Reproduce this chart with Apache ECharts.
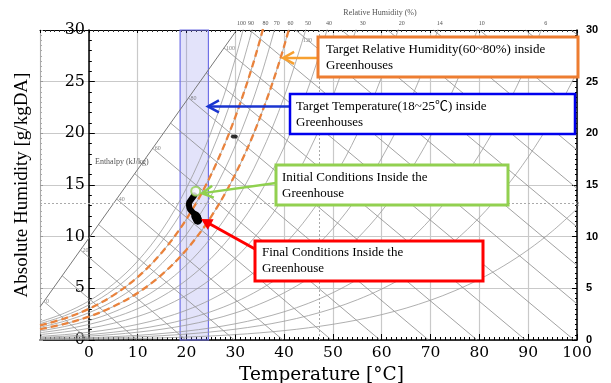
<!DOCTYPE html>
<html><head><meta charset="utf-8">
<script src="https://cdn.jsdelivr.net/npm/echarts@6/dist/echarts.min.js"></script>
<style>html,body{margin:0;padding:0;background:#fff}#c{width:611px;height:383px}</style>
</head><body><div id="c"></div>
<script>
// ---- data ----
const tempTicks = [0, 10, 20, 30, 40, 50, 60, 70, 80, 90, 100];
const humidityTicks = [0, 5, 10, 15, 20, 25, 30];
// saturation vapour pressure table (kPa) against dry-bulb temperature (°C)
const satTemps = [-10, -5, 0, 5, 10, 15, 20, 25, 30, 35, 40, 45, 50, 55, 60, 65, 70, 75, 80, 85, 90, 95, 100];
const satPress = [0.286, 0.422, 0.611, 0.873, 1.228, 1.706, 2.339, 3.169, 4.246, 5.627, 7.381, 9.590, 12.344, 15.752, 19.932, 25.022, 31.176, 38.563, 47.373, 57.815, 70.117, 84.529, 101.32];
const rhCurves = [100, 90, 80, 70, 60, 50, 40, 30, 20, 14, 10, 6, 4, 2];
const targetRh = [80, 60];
const enthalpyLevels = [0, 10, 20, 30, 40, 50, 60, 70, 80, 90, 100, 110, 120, 130, 140, 150, 160, 170, 180];
const enthalpyLabelLevels = [0, 20, 40, 60, 80, 100];
const enthalpyScaleT = [-10, 30.3];
const enthalpyScaleW = [3.2, 30];
const topRhLabels = ['100', '90', '80', '70', '60', '50', '40', '30', '20', '14', '10', '6'];
const topRhTemps = [31.3, 33.2, 36.2, 38.5, 41.3, 44.9, 49.2, 56.1, 64.1, 71.9, 80.5, 93.6];
const targetTempRange = [18.7, 24.5];
const trajT = [21.6, 21.0, 20.5, 20.6, 21.2, 21.9, 22.4, 22.3];
const trajW = [14.0, 13.6, 13.2, 12.8, 12.4, 12.1, 11.8, 11.5];
const finalBlobT = [21.9, 22.3];
const finalBlobW = [12.0, 11.6];
const initialPoint = [21.9, 14.4];
const strayPoint = [29.8, 19.7];
const dottedRefT = 47.3;
const dottedRefW = 13.2;
// annotation targets (data coords)
const orangeTarget = [39.8, 27.3];
const blueTarget = [24.4, 22.6];
const greenTarget = [23.2, 14.2];
const redTarget = [23.0, 11.7];

// ---- helpers ----
const P = 101.325;
const wFromPv = pv => 622 * pv / (P - pv);
const hAt = (T, w) => 1.006 * T + w / 1000 * (2501 + 1.86 * T);

function rhCurve(rh) {
  const pts = [];
  for (let i = 0; i < satTemps.length; i++) {
    const w = wFromPv(rh / 100 * satPress[i]);
    pts.push([satTemps[i], w]);
    if (w > 30) break;
  }
  return pts;
}
function scalePoint(s) {
  return [enthalpyScaleT[0] + (enthalpyScaleT[1] - enthalpyScaleT[0]) * s,
          enthalpyScaleW[0] + (enthalpyScaleW[1] - enthalpyScaleW[0]) * s];
}
function scaleIntersect(h) {
  let a = 0, b = 1;
  for (let k = 0; k < 50; k++) {
    const m = (a + b) / 2; const p = scalePoint(m);
    if (hAt(p[0], p[1]) < h) a = m; else b = m;
  }
  return scalePoint((a + b) / 2);
}
const hTop = hAt(enthalpyScaleT[1], enthalpyScaleW[1]);
function enthalpyLine(h) {
  let start;
  if (h <= hTop) start = scaleIntersect(h);
  else start = [(h - 2.501 * 30) / (1.006 + 0.00186 * 30), 30];
  let end;
  const Te = h / 1.006;
  if (Te <= 100) end = [Te, 0];
  else end = [100, 1000 * (h - 100.6) / (2501 + 186)];
  return [start, end];
}

const serif = 'Liberation Serif';
const gridLineColor = '#c9c9c9';

const series = [];
// band + dotted reference lines
series.push({
  type: 'line', data: [], silent: true, z: 1,
  markArea: {
    silent: true,
    itemStyle: { color: 'rgba(100,100,225,0.18)', borderColor: '#7070e6', borderWidth: 1.2 },
    data: [[{ xAxis: targetTempRange[0] }, { xAxis: targetTempRange[1] }]]
  },
  markLine: {
    silent: true, symbol: 'none', label: { show: false },
    lineStyle: { color: '#aaa', type: [2, 2], width: 1 },
    data: [{ xAxis: dottedRefT }, { yAxis: dottedRefW }]
  }
});
// RH curves
rhCurves.forEach((rh, i) => {
  series.push({
    type: 'line', data: rhCurve(rh), smooth: 0.35, symbol: 'none', silent: true,
    lineStyle: { color: '#9a9a9a', width: 0.8 }, z: 2,
    endLabel: rh === 2 ? { show: true, formatter: '2', fontSize: 6, color: '#777', offset: [-9, -4] } : undefined
  });
});
// enthalpy lines
series.push({
  type: 'lines', coordinateSystem: 'cartesian2d', silent: true, z: 2,
  lineStyle: { color: '#8a8a8a', width: 0.8, opacity: 1 },
  data: enthalpyLevels.map(h => ({ coords: enthalpyLine(h) }))
});
// enthalpy scale line
series.push({
  type: 'line', data: enthalpyScaleT.map((t, i) => [t, enthalpyScaleW[i]]), symbol: 'none', silent: true,
  lineStyle: { color: '#777', width: 1 }, z: 2
});
// enthalpy labels
series.push({
  type: 'scatter', symbolSize: 0, silent: true, z: 3,
  data: enthalpyLabelLevels.map(h => ({ value: scaleIntersect(h), name: String(h) }))
    .concat([{ value: [(120 - 2.501 * 29) / (1.006 + 0.00186 * 29), 29], name: '120', label: { position: 'inside' } }]),
  label: { show: true, formatter: p => p.name, position: 'right', distance: 2, fontSize: 6, color: '#666', fontFamily: serif }
});
// target RH (orange dashed)
targetRh.forEach(rh => {
  series.push({
    type: 'line', data: rhCurve(rh), smooth: 0.35, symbol: 'none', silent: true,
    lineStyle: { color: '#e9823c', width: 2.3, type: [7, 4] }, z: 4
  });
});
// trajectory
series.push({
  type: 'line', data: trajT.map((t, i) => [t, trajW[i]]), smooth: true, symbol: 'none', silent: true,
  lineStyle: { color: '#000', width: 6, cap: 'round', join: 'round' }, z: 6
});
series.push({
  type: 'line', data: finalBlobT.map((t, i) => [t, finalBlobW[i]]), symbol: 'none', silent: true,
  lineStyle: { color: '#000', width: 9, cap: 'round' }, z: 6
});
series.push({
  type: 'scatter', data: [strayPoint], symbol: 'circle', symbolSize: [7, 4], silent: true,
  itemStyle: { color: '#000' }, z: 6
});
series.push({
  type: 'scatter', data: [initialPoint], symbol: 'circle', symbolSize: 9, silent: true,
  itemStyle: { color: '#fff', borderColor: '#92d050', borderWidth: 2 }, z: 7
});

const chart = echarts.init(document.getElementById('c'), null, { renderer: 'canvas' });
const option = {
  animation: false,
  backgroundColor: '#fff',
  grid: { left: 40, right: 34, top: 30, bottom: 43, outerBoundsMode: 'none', containLabel: false },
  xAxis: [{
    type: 'value', min: -10, max: 100, interval: 10, position: 'bottom',
    axisLine: { show: true, onZero: false, lineStyle: { color: '#000', width: 1.5 } },
    axisTick: { show: true, inside: true, length: 6, lineStyle: { color: '#000' } },
    minorTick: { show: true, splitNumber: 10, length: 3, lineStyle: { color: '#000' } },
    axisLabel: { formatter: v => (tempTicks.indexOf(v) >= 0 ? String(v) : ''), fontFamily: 'DejaVu Serif', fontSize: 15.5, color: '#000', margin: 5 },
    splitLine: { show: true, lineStyle: { color: gridLineColor, width: 1.2 } },
    name: 'Temperature [°C]', nameLocation: 'middle', nameGap: 26,
    nameTextStyle: { fontFamily: 'DejaVu Serif', fontSize: 18.5, color: '#000', padding: [0, 0, 0, 26] }
  }, {
    type: 'value', min: -10, max: 100, interval: 10, position: 'top',
    axisLine: { show: true, onZero: false, lineStyle: { color: '#000', width: 1 } },
    axisTick: { show: true, inside: true, length: 3, lineStyle: { color: '#000' } },
    minorTick: { show: true, splitNumber: 10, length: 2, lineStyle: { color: '#333' } },
    axisLabel: { customValues: topRhTemps, formatter: v => topRhLabels[topRhTemps.indexOf(v)] || '', fontFamily: serif, fontSize: 6, color: '#555', margin: 4 },
    splitLine: { show: false }
  }],
  yAxis: [{
    type: 'value', min: 0, max: 30, interval: 5, position: 'left',
    axisLine: { show: true, onZero: true, lineStyle: { color: '#000', width: 1.5 } },
    axisTick: { show: true, inside: true, length: 6, lineStyle: { color: '#000' } },
    minorTick: { show: true, splitNumber: 5, length: 3, lineStyle: { color: '#000' } },
    axisLabel: { formatter: v => (humidityTicks.indexOf(v) >= 0 ? String(v) : ''), fontFamily: 'DejaVu Serif', fontSize: 16, color: '#000', margin: -45 },
    splitLine: { show: true, lineStyle: { color: gridLineColor, width: 1.2 } },
    name: 'Absolute Humidity [g/kgDA]', nameLocation: 'middle', nameGap: 8,
    nameTextStyle: { fontFamily: serif, fontSize: 19, color: '#000' }
  }, {
    type: 'value', min: 0, max: 30, interval: 5, position: 'right',
    axisLine: { show: true, onZero: false, lineStyle: { color: '#000', width: 1.5 } },
    axisTick: { show: true, inside: true, length: 5, lineStyle: { color: '#000' } },
    minorTick: { show: true, splitNumber: 10, length: 2, lineStyle: { color: '#000' } },
    axisLabel: { fontFamily: 'Liberation Sans', fontWeight: 'bold', fontSize: 11, color: '#000', margin: 9 },
    splitLine: { show: false }
  }, {
    type: 'value', min: 0, max: 30, interval: 5, position: 'left', offset: 0,
    axisLine: { show: true, onZero: false, lineStyle: { color: '#aaa', width: 1 } },
    axisTick: { show: true, inside: true, length: 3, lineStyle: { color: '#999' } },
    minorTick: { show: true, splitNumber: 10, length: 2, lineStyle: { color: '#aaa' } },
    axisLabel: { show: false }, splitLine: { show: false }
  }],
  series: series
};
chart.setOption(option);

// ---- annotations ----
function px(pt) { return chart.convertToPixel({ gridIndex: 0 }, pt); }
function arrowGraphic(from, tip, color, width, filled) {
  const dx = tip[0] - from[0], dy = tip[1] - from[1];
  const L = Math.sqrt(dx * dx + dy * dy); const ux = dx / L, uy = dy / L;
  const hl = 11, hw = 6;
  const b1 = [tip[0] - ux * hl - uy * hw, tip[1] - uy * hl + ux * hw];
  const b2 = [tip[0] - ux * hl + uy * hw, tip[1] - uy * hl - ux * hw];
  const els = [{ type: 'line', shape: { x1: from[0], y1: from[1], x2: tip[0] - ux * (filled ? 6 : 1), y2: tip[1] - uy * (filled ? 6 : 1) }, style: { stroke: color, lineWidth: width }, z: 100 }];
  if (filled) els.push({ type: 'polygon', shape: { points: [tip, b1, b2] }, style: { fill: color }, z: 100 });
  else els.push({ type: 'polyline', shape: { points: [b1, tip, b2] }, style: { stroke: color, lineWidth: width, fill: null }, z: 100 });
  return els;
}
function box(x, y, w, h, stroke, lw, text, tx, ty) {
  return [
    { type: 'rect', shape: { x: x, y: y, width: w, height: h }, style: { fill: '#fff', stroke: stroke, lineWidth: lw }, z: 100 },
    { type: 'text', x: tx, y: ty, style: { text: text, font: '13px "Liberation Serif", "Noto Sans CJK SC", serif', fill: '#000', lineHeight: 16, verticalAlign: 'top', align: 'left' }, z: 101 }
  ];
}
const g = [];
g.push({ type: 'text', x: 95, y: 158, style: { text: 'Enthalpy (kJ/kg)', font: '8px "Liberation Serif", serif', fill: '#555' }, z: 5 });
g.push({ type: 'text', x: 380, y: 9, style: { text: 'Relative Humidity (%)', font: '8px "Liberation Serif", serif', fill: '#555', align: 'center' }, z: 5 });
const oT = px(orangeTarget), bT = px(blueTarget), gT = px(greenTarget), rT = px(redTarget);
g.push(...arrowGraphic([318, oT[1]], oT, '#f7a030', 2.5, false));
g.push(...box(318, 37, 260, 40, '#ed7d31', 3, 'Target Relative Humidity(60~80%) inside\nGreenhouses', 326, 41.5));
g.push(...arrowGraphic([290, bT[1]], bT, '#1a35d0', 2.5, false));
g.push(...box(290, 94, 285, 40, '#0000ee', 2.5, 'Target Temperature(18~25\u2103) inside\nGreenhouses', 296, 99));
g.push(...arrowGraphic([276, 183], gT, '#8fd14f', 2.5, false));
g.push(...box(276, 165, 232, 40, '#92d050', 3, 'Initial Conditions Inside the\nGreenhouse', 282, 169.5));
g.push(...arrowGraphic([255, 249], rT, '#ff0000', 3, true));
g.push(...box(255, 241, 228, 40, '#ff0000', 3, 'Final Conditions Inside the\nGreenhouse', 262, 245));
chart.setOption({ graphic: { elements: g } });
</script>
</body></html>
